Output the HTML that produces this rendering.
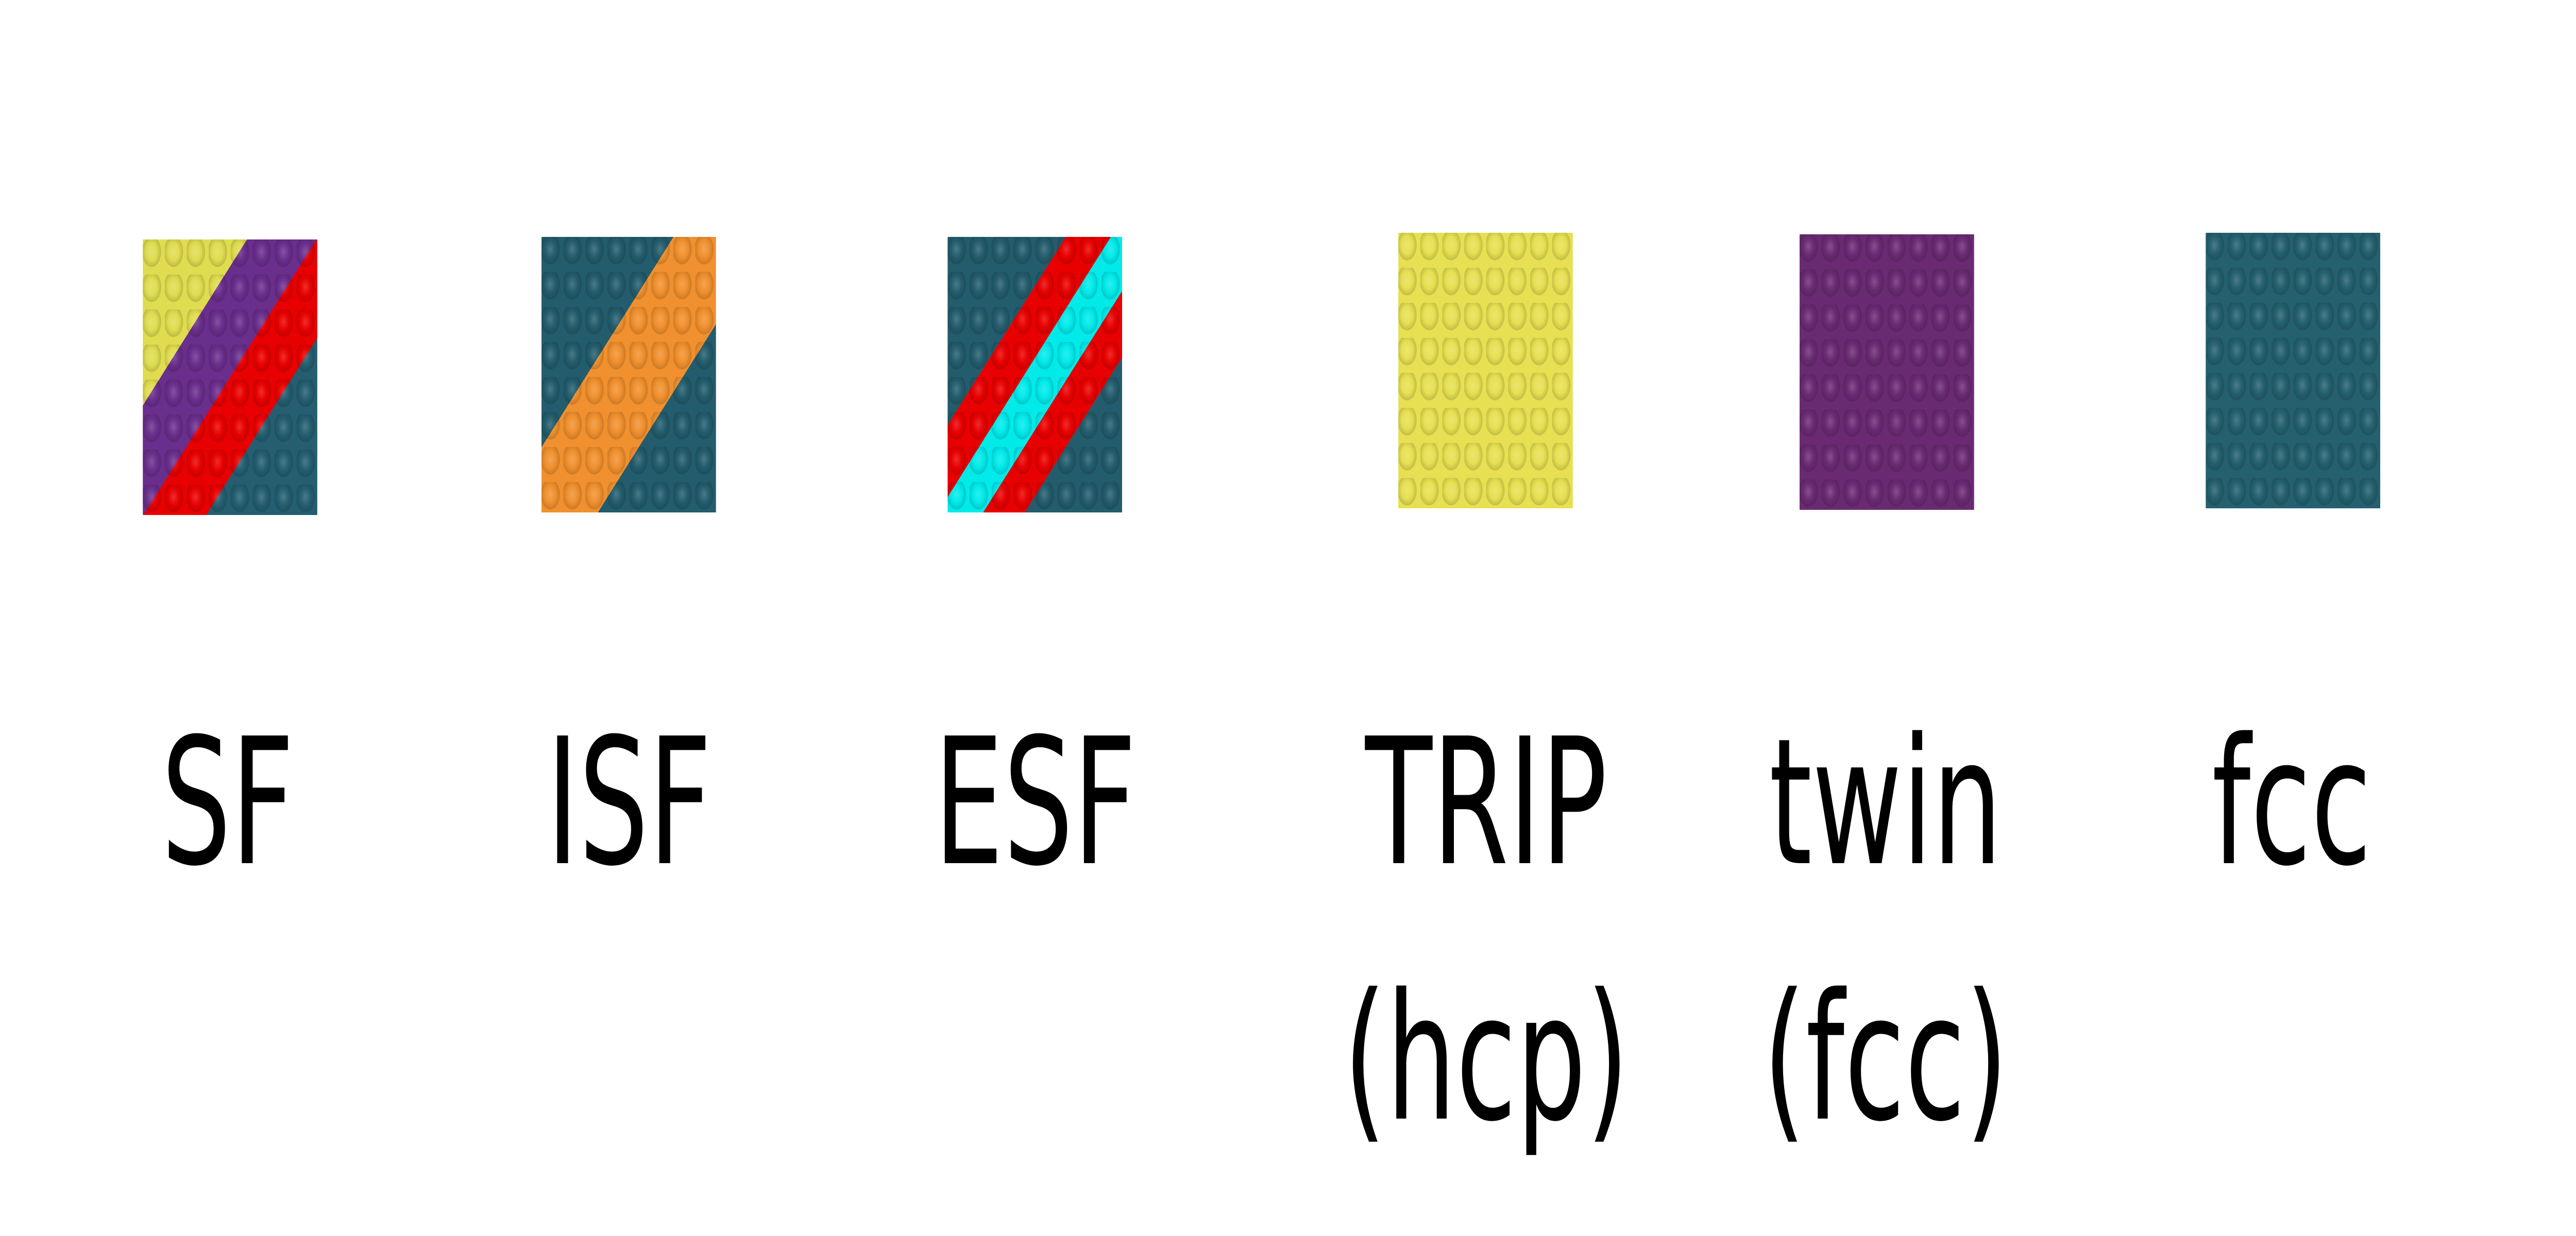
<!DOCTYPE html>
<html><head><meta charset="utf-8"><style>
html,body{margin:0;padding:0;background:#fff;overflow:hidden}
#root{position:relative;width:7973px;height:2400px;overflow:hidden;background:#fff;transform-origin:0 0}
.tile{position:absolute;width:540px;height:535px}
.tile::after{content:"";position:absolute;inset:0;background:radial-gradient(circle at 40% 35%,rgba(255,255,255,.18) 0,rgba(255,255,255,0) 28%,rgba(0,0,0,.15) 48%,rgba(0,0,0,0) 50%);background-size:68px 68px}
.lbl{position:absolute;width:1400px;text-align:center;font-family:"DejaVu Sans","Liberation Sans",sans-serif;font-size:340px;line-height:496px;color:#000;top:1311px;white-space:nowrap}
</style></head><body>
<div id="root">
<div class="tile" style="left:442px;top:465px;background:linear-gradient(135deg,#e0dc50 0 30%,#6a2e8c 30% 50%,#e80000 50% 68%,#245e70 68%)"></div>
<div class="tile" style="left:1676px;top:460px;background:linear-gradient(135deg,#235c6c 0 38%,#f0902e 38% 66%,#235c6c 66%)"></div>
<div class="tile" style="left:2933px;top:460px;background:linear-gradient(135deg,#235c6c 0 34%,#e80000 34% 47%,#00eaea 47% 60%,#e80000 60% 72%,#235c6c 72%)"></div>
<div class="tile" style="left:4328px;top:452px;background:#e6e052"></div>
<div class="tile" style="left:5570px;top:455px;background:#6a2a72"></div>
<div class="tile" style="left:6827px;top:452px;background:#24606e"></div>
<div class="lbl" style="left:5px">SF</div>
<div class="lbl" style="left:1247px">ISF</div>
<div class="lbl" style="left:2504px">ESF</div>
<div class="lbl" style="left:3900px">TRIP<br>(hcp)</div>
<div class="lbl" style="left:5136px">twin<br>(fcc)</div>
<div class="lbl" style="left:6393px">fcc</div>
</div>
<script>
(function(){
  var w = document.documentElement.clientWidth || window.innerWidth;
  if (w && w < 7973) {
    document.getElementById('root').style.transform = 'scaleX(' + (w / 7973) + ')';
  }
})();
</script>
</body></html>
